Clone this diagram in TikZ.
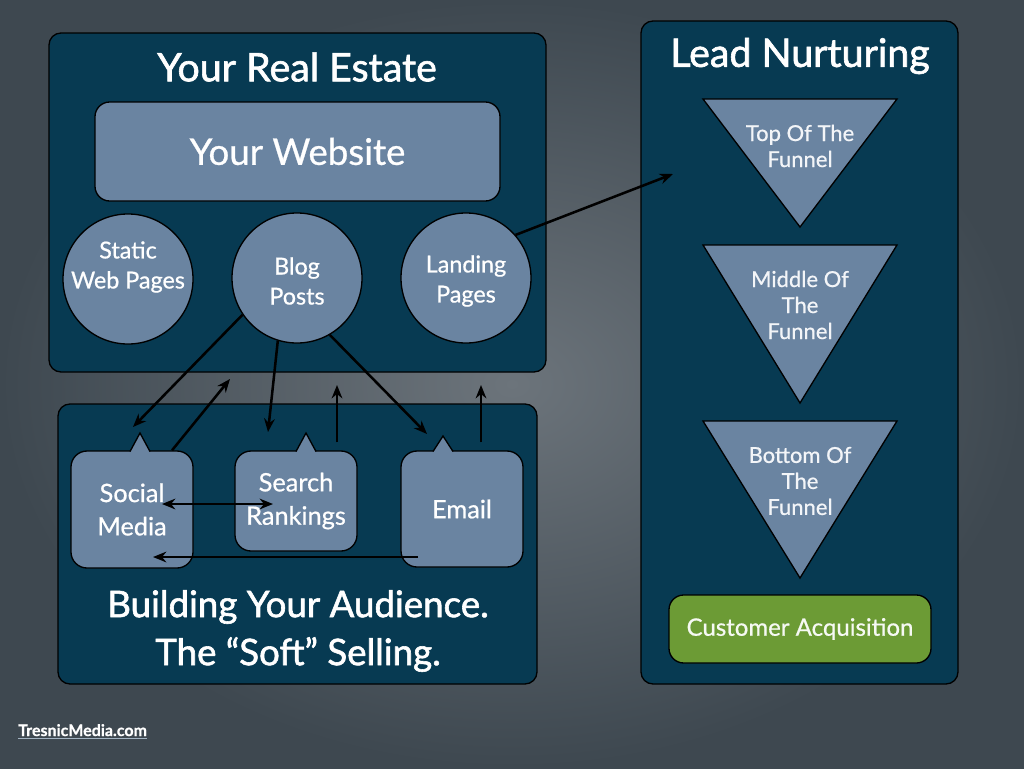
\documentclass[tikz,border=0pt]{standalone}
\usepackage{fontspec}
\setmainfont{Lato}[FakeBold=0.7]
\newfontfamily\titlefont{Lato}[FakeBold=1.6]
\usetikzlibrary{arrows.meta}
\definecolor{bgin}{HTML}{6C747B}
\definecolor{bgout}{HTML}{3E4850}
\definecolor{panel}{HTML}{073A52}
\definecolor{slate}{HTML}{6A84A1}
\definecolor{leaf}{HTML}{6C9B35}
\definecolor{ulc}{HTML}{A3B3C2}
\begin{document}
\begin{tikzpicture}[x=0.75pt,y=-0.75pt,
  panelbox/.style={draw=black, line width=1pt, fill=panel, rounded corners=9pt, inner sep=0pt},
  slatebox/.style={draw=black, line width=1pt, fill=slate, rounded corners=12pt, inner sep=0pt, text=white, align=center},
  bubble/.style={slatebox, minimum width=91.5pt, font=\fontsize{19}{25}\selectfont},
  roundnode/.style={draw=black, line width=1pt, fill=slate, circle, inner sep=0pt, minimum size=97.5pt},
  roundtext/.style={text=white, align=center, font=\fontsize{17.5}{22.5}\selectfont},
  titletext/.style={text=white, font=\titlefont\fontsize{29.5}{36}\selectfont, align=center},
  funneltext/.style={text=white!92!slate, font=\fontsize{16.5}{19.5}\selectfont, align=center},
  funnel/.style={draw=black, line width=1pt, fill=slate, line join=miter},
  conn/.style={line width=1.9pt, -{Stealth[length=10pt,width=8pt]}},
  conn2/.style={line width=1.9pt, {Stealth[length=10pt,width=8pt]}-{Stealth[length=10pt,width=8pt]}}
]
% background
\shade[inner color=bgin, outer color=bgout] (0,0) rectangle (1024,768);
\useasboundingbox (0,0) rectangle (1024,768);

% ---- panel 1: Your Real Estate
\node[panelbox, minimum width=372.75pt, minimum height=254.25pt] (p1) at (297.5,202.5) {};
\node[titletext] (t1) at (297,67) {Your Real Estate};
\node[slatebox, rounded corners=11pt, minimum width=303.75pt, minimum height=74.25pt,
      font=\fontsize{27.5}{32}\selectfont] (web) at (297.5,151.5) {Your Website};
\node[roundnode] (static) at (128,279) {};
\node[roundtext] (statictx) at (128,267) {Static\\Web Pages};
\node[roundnode] (blog) at (297,278) {};
\node[roundtext] (blogtx) at (297,281) {Blog\\Posts};
\node[roundnode] (landing) at (466,278) {};
\node[roundtext] (landingtx) at (466,281) {Landing\\Pages};

% ---- panel 2: Building Your Audience
\node[panelbox, minimum width=359.25pt, minimum height=210pt] (p2) at (297.5,544) {};
\node[titletext, font=\titlefont\fontsize{27.5}{36}\selectfont] (t2) at (298,631) {Building Your Audience.\\The “Soft” Selling.};

\node[bubble, minimum height=87.75pt] (social) at (132,509.5) {Social\\Media};
\node[bubble, minimum height=75pt] (search) at (296,501) {Search\\Rankings};
\node[bubble, minimum height=87pt] (email) at (462,509) {Email};
% notches
\foreach \nm/\px/\py in {social/140/433, search/306/433, email/443/436}{
  \fill[slate] (\px-10,452) -- (\px,\py) -- (\px+10,452) -- cycle;
  \draw[line width=1pt, line join=miter] (\px-10,451.5) -- (\px,\py) -- (\px+10,451.5);
}

% ---- panel 3: Lead Nurturing
\node[panelbox, minimum width=237.75pt, minimum height=497.25pt] (p3) at (799.5,352.5) {};
\node[titletext] (t3) at (800,56) {Lead Nurturing};
\draw[funnel] (703,99) -- (897,99) -- (800,227) -- cycle;
\node[funneltext] (f1) at (800,146) {Top Of The\\Funnel};
\draw[funnel] (703,245) -- (897,245) -- (800,403) -- cycle;
\node[funneltext] (f2) at (800,305) {Middle Of\\The\\Funnel};
\draw[funnel] (703,421) -- (897,421) -- (800,578) -- cycle;
\node[funneltext] (f3) at (800,481) {Bottom Of\\The\\Funnel};
\node[slatebox, fill=leaf, rounded corners=11pt, minimum width=196.5pt, minimum height=51pt,
      font=\fontsize{18}{20}\selectfont, text=white!94!leaf] (cust) at (800,629) {Customer Acquisition};

% ---- connectors
\coordinate (smIn) at (133,427);
\coordinate (smOut) at (230,379);
\coordinate (srIn) at (268,432);
\coordinate (srOut) at (337,385);
\coordinate (emIn) at (427,434);
\coordinate (emOut) at (481,385);
\coordinate (lnEnd) at (673,174);

\draw[conn] (blog.214) -- (smIn);
\draw[conn] ([xshift=30pt]social.north) -- (smOut);
\draw[conn] (blog.253) -- (srIn);
\draw[conn] ([shift={(41,-8)}]search.north) -- (srOut);
\draw[conn] (blog.300) -- (emIn);
\draw[conn] ([shift={(19,-8)}]email.north) -- (emOut);
\draw[conn2] ([shift={(30,-5.5)}]social.center) -- ([shift={(-23,3)}]search.center);
\draw[conn] ([shift={(-44,48)}]email.center) -- ([shift={(21,47.5)}]social.center);
\draw[conn] (landing.41) -- (lnEnd);

% ---- footer
\node[anchor=base west, inner sep=0pt, text=white, font=\fontsize{12}{14}\selectfont\bfseries] (tm) at (18,736) {TresnicMedia.com};
\draw[ulc, line width=1pt] ([yshift=-2pt]tm.base west) -- ([yshift=-2pt]tm.base east);
\end{tikzpicture}
\end{document}
